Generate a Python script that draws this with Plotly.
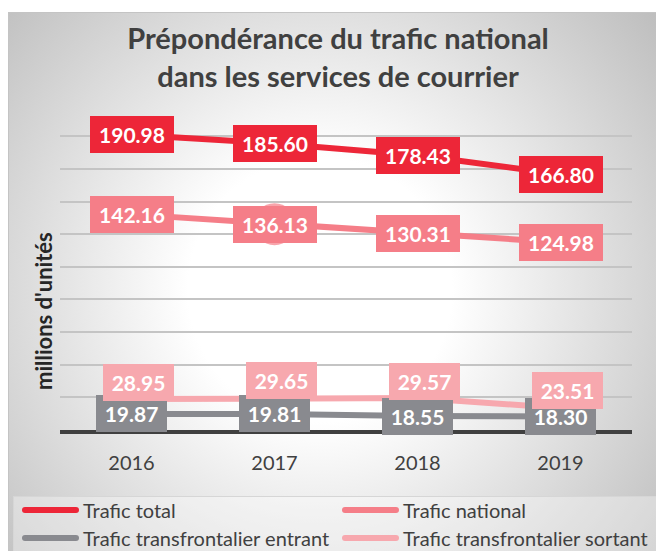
import base64
import plotly.graph_objects as go

# ---------------- data ----------------
years = ["2016", "2017", "2018", "2019"]
series_names = [
    "Trafic total",
    "Trafic national",
    "Trafic transfrontalier entrant",
    "Trafic transfrontalier sortant",
]
trafic_total = [190.98, 185.60, 178.43, 166.80]
trafic_national = [142.16, 136.13, 130.31, 124.98]
trafic_entrant = [19.87, 19.81, 18.55, 18.30]
trafic_sortant = [28.95, 29.65, 29.57, 23.51]
y_ticks = [10, 30, 50, 70, 90, 110, 130, 150, 170, 190]
title_text = "Prépondérance du trafic national<br>dans les services de courrier"
y_title = "millions d'unités"

# ---------------- style ----------------
colors = ["#ED2638", "#F57E88", "#898A8F", "#F7A8AE"]
FONT = "Lato"
W, H = 656, 551
L, R, T, B = 60, 24, 120, 121
PW, PH = W - L - R, H - T - B


def px_x(px):
    return (px - L) / PW


def px_y(py):
    return (H - B - py) / PH


series_values = [trafic_total, trafic_national, trafic_entrant, trafic_sortant]

fig = go.Figure()
for i, (name, vals) in enumerate(zip(series_names, series_values)):
    if i == 1:
        fig.add_trace(go.Scatter(
            x=years, y=vals, name=name, mode="lines+markers",
            line=dict(color=colors[i], width=6),
            marker=dict(size=[0, 42, 0, 0], color=colors[i], line=dict(width=0)),
            cliponaxis=False, showlegend=False,
        ))
    else:
        fig.add_trace(go.Scatter(
            x=years, y=vals, name=name, mode="lines",
            line=dict(color=colors[i], width=6),
            cliponaxis=False, showlegend=False,
        ))

# data labels
annotations = []
for i, vals in enumerate(series_values):
    for j, v in enumerate(vals):
        txt = f"{v:.2f}"
        annotations.append(dict(
            x=j, y=v, xref="x", yref="y", text=f"<b>{txt}</b>",
            showarrow=False, bgcolor=colors[i], borderpad=0, borderwidth=0,
            width=13 * len(txt) + 6, height=37,
            font=dict(family=FONT, size=21, color="white"),
            xshift=7 if i == 3 else 0, yshift=17 if i == 3 else 0,
        ))

# y axis title
annotations.append(dict(
    x=px_x(43), y=px_y(311), xref="paper", yref="paper",
    text=f"<b>{y_title}</b>", textangle=-90, showarrow=False,
    font=dict(family=FONT, size=22, color="#262626"),
    xanchor="center", yanchor="middle",
))

# custom legend
legend_pos = [(22, 510), (342, 510), (22, 538), (342, 538)]
shapes = []
for i, name in enumerate(series_names):
    x0, yy = legend_pos[i]
    x1 = x0 + 57
    shapes.append(dict(
        type="line", xref="paper", yref="paper",
        x0=px_x(x0 + 3), x1=px_x(x1 - 3), y0=px_y(yy), y1=px_y(yy),
        line=dict(color=colors[i], width=6),
    ))
    for cx in (x0 + 3, x1 - 3):
        shapes.append(dict(
            type="circle", xref="paper", yref="paper",
            x0=px_x(cx - 3), x1=px_x(cx + 3), y0=px_y(yy + 3), y1=px_y(yy - 3),
            fillcolor=colors[i], line=dict(width=0),
        ))
    annotations.append(dict(
        x=px_x(x1 + 2), y=px_y(yy), xref="paper", yref="paper",
        text=name, showarrow=False, xanchor="left", yanchor="middle",
        font=dict(family=FONT, size=20, color="#404040"),
    ))

# background (radial gradient chart area + legend box)
svg = (
    "<svg xmlns='http://www.w3.org/2000/svg' width='656' height='551'>"
    "<defs><radialGradient id='g' gradientUnits='userSpaceOnUse' cx='320' cy='290' r='440'>"
    "<stop offset='0' stop-color='#ffffff'/>"
    "<stop offset='0.3' stop-color='#ffffff'/>"
    "<stop offset='1' stop-color='#bdbdbd'/>"
    "</radialGradient></defs>"
    "<rect x='8.5' y='12.5' width='648' height='539' fill='url(#g)' stroke='#c4c4c4' stroke-width='1'/>"
    "<rect x='13.5' y='496.5' width='643' height='55' fill='#ffffff' fill-opacity='0.35' stroke='#d6d6d6' stroke-width='1'/>"
    "</svg>"
)
src = "data:image/svg+xml;base64," + base64.b64encode(svg.encode()).decode()

fig.update_layout(
    width=W, height=H,
    margin=dict(l=L, r=R, t=T, b=B, pad=0),
    paper_bgcolor="white",
    plot_bgcolor="rgba(0,0,0,0)",
    font=dict(family=FONT, color="#404040"),
    title=dict(
        text=f"<b>{title_text}</b>", x=338 / W, xanchor="center",
        yref="container", y=1 - 49 / H, yanchor="middle",
        font=dict(family=FONT, size=29, color="#404040"),
    ),
    xaxis=dict(
        type="category", range=[-0.5, 3.5], showgrid=False, ticks="",
        showline=True, linecolor="#404040", linewidth=4,
        tickfont=dict(family=FONT, size=20, color="#404040"),
        ticklabelstandoff=12, fixedrange=True,
    ),
    yaxis=dict(
        range=[10, 200], tickvals=y_ticks, showticklabels=False,
        showgrid=True, gridcolor="#C4C4C4", gridwidth=1.5,
        zeroline=False, showline=False, ticks="", fixedrange=True,
    ),
    images=[dict(
        source=src, xref="paper", yref="paper",
        x=px_x(0), y=px_y(0), sizex=W / PW, sizey=H / PH,
        xanchor="left", yanchor="top", sizing="stretch", layer="below",
    )],
    annotations=annotations,
    shapes=shapes,
    showlegend=False,
)

fig.write_html(
    "out.html",
    config={"displayModeBar": False},
    post_script="document.body.style.margin='0';document.body.style.overflow='hidden';",
)
